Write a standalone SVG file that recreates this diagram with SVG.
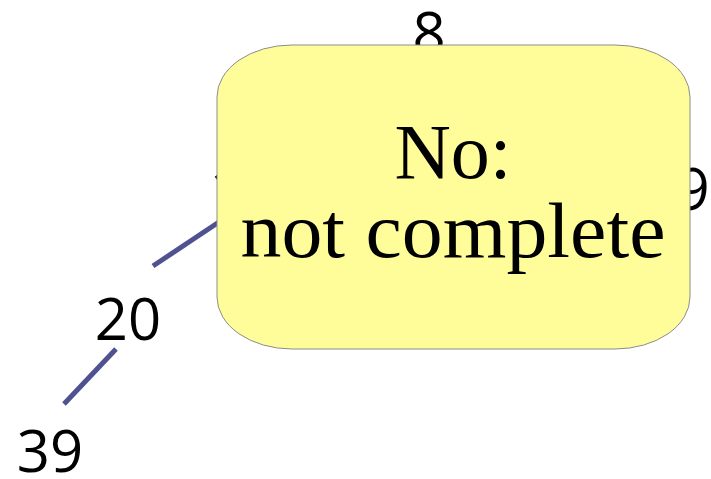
<svg xmlns="http://www.w3.org/2000/svg" width="711" height="479" viewBox="0 0 711 479">
<style>
.num{font-family:"Open Sans","DejaVu Sans",sans-serif;font-size:58px;fill:#000;text-anchor:middle}
.edge{stroke:#4f5190;stroke-width:5;fill:none}
.call{fill:#fffc9a;stroke:#8c8c8c;stroke-width:1}
.ct{font-family:"Liberation Serif","DejaVu Serif",serif;font-size:78px;fill:#000;text-anchor:middle}
</style>
<rect width="711" height="479" fill="#fff"/>
<g id="connectors">
<line class="edge" x1="153" y1="266" x2="228" y2="216"/>
<line class="edge" x1="116" y1="349" x2="64" y2="404"/>
</g>
<g id="node-8"><text class="num" x="429" y="54">8</text></g>
<g id="node-1"><text class="num" x="226" y="210">1</text></g>
<g id="node-9"><text class="num" x="693" y="210" font-size="60">9</text></g>
<g id="node-20"><text class="num" x="128" y="340">20</text></g>
<g id="node-39"><text class="num" x="50" y="472">39</text></g>
<g id="callout">
<rect class="call" x="217" y="45" width="473" height="304" rx="75" ry="52"/>
<text class="ct" x="453" y="178">No:</text>
<text class="ct" x="453" y="257" textLength="425" lengthAdjust="spacingAndGlyphs">not complete</text>
</g>
</svg>
